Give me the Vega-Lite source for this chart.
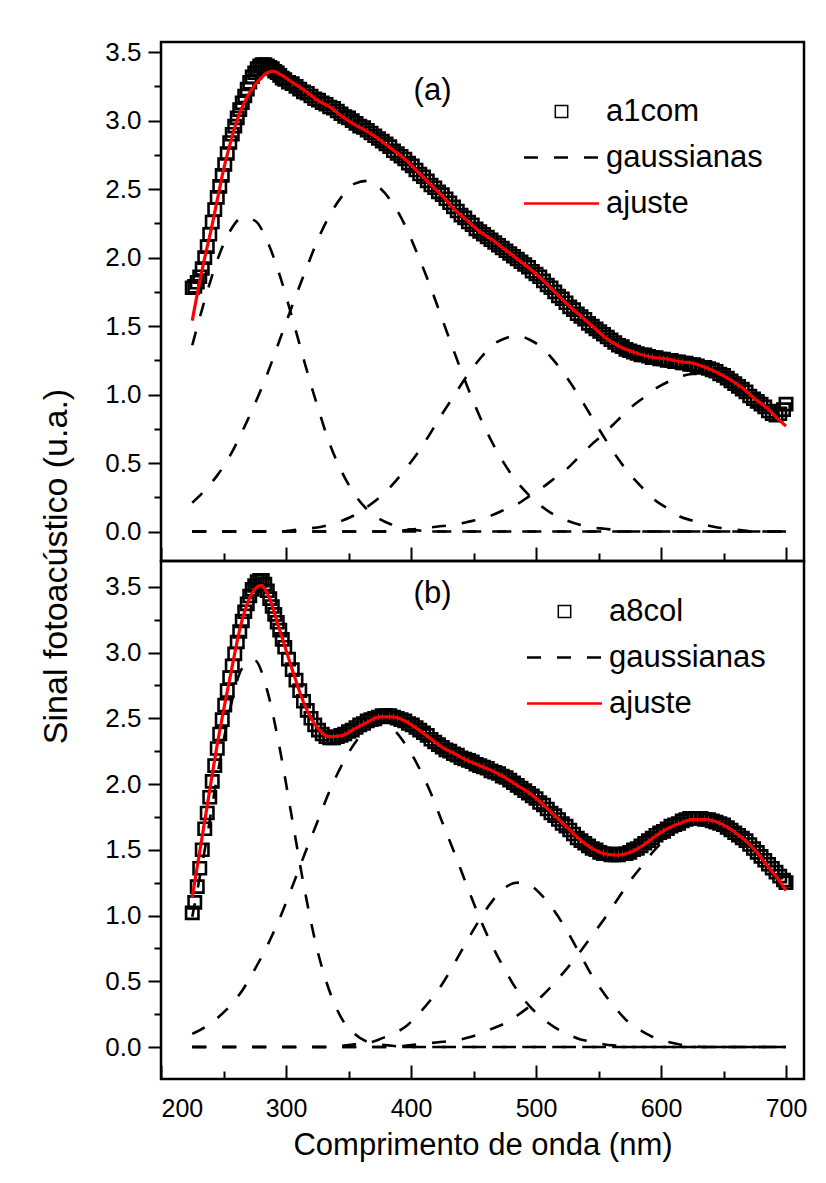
{
"$schema": "https://vega.github.io/schema/vega-lite/v6.json",
"background": "white",
"padding": {"left": 37, "top": 37, "right": 0, "bottom": 5},
"bounds": "flush",
"spacing": 0,
"config": {
  "view": {"stroke": "black", "strokeWidth": 2.5},
  "font": "Liberation Sans",
  "axis": {"grid": false, "domain": false, "tickColor": "black", "tickWidth": 2, "labelColor": "black", "labelFont": "Liberation Sans", "titleFont": "Liberation Sans", "titleFontWeight": "normal", "titleColor": "black"},
  "legend": {"labelFont": "Liberation Sans", "labelColor": "black", "labelFontSize": 31, "labelLimit": 400, "symbolSize": 400, "symbolStrokeWidth": 2.5, "symbolFillColor": "transparent", "labelOffset": 29, "rowPadding": 14, "title": null}
},
"resolve": {"scale": {"color": "independent", "shape": "independent", "strokeDash": "independent"}},
"datasets": {
"d1": [
{"w":225,"v":1.78},{"w":227,"v":1.79},{"w":229,"v":1.82},{"w":231,"v":1.86},{"w":233,"v":1.92},{"w":235,"v":2.00},{"w":237,"v":2.08},{"w":239,"v":2.17},{"w":241,"v":2.26},{"w":243,"v":2.35},{"w":245,"v":2.44},{"w":247,"v":2.52},{"w":249,"v":2.60},{"w":251,"v":2.68},{"w":253,"v":2.76},{"w":255,"v":2.84},{"w":257,"v":2.90},{"w":259,"v":2.96},{"w":261,"v":3.02},{"w":263,"v":3.08},{"w":265,"v":3.13},{"w":267,"v":3.18},{"w":269,"v":3.23},{"w":271,"v":3.28},{"w":273,"v":3.32},{"w":275,"v":3.35},{"w":277,"v":3.38},{"w":279,"v":3.40},{"w":281,"v":3.41},{"w":283,"v":3.41},{"w":285,"v":3.40},{"w":287,"v":3.39},{"w":289,"v":3.38},{"w":291,"v":3.36},{"w":293,"v":3.35},{"w":295,"v":3.33},{"w":297,"v":3.31},{"w":299,"v":3.30},
{"w":302,"v":3.28},{"w":305,"v":3.27},{"w":308,"v":3.25},{"w":311,"v":3.23},{"w":314,"v":3.21},{"w":317,"v":3.20},{"w":320,"v":3.18},{"w":323,"v":3.16},{"w":326,"v":3.15},{"w":329,"v":3.13},{"w":332,"v":3.12},{"w":335,"v":3.10},{"w":338,"v":3.09},{"w":341,"v":3.07},{"w":344,"v":3.05},{"w":347,"v":3.03},{"w":350,"v":3.02},{"w":353,"v":3.00},{"w":356,"v":2.98},{"w":359,"v":2.96},{"w":362,"v":2.95},{"w":365,"v":2.93},{"w":368,"v":2.91},{"w":371,"v":2.89},{"w":374,"v":2.87},{"w":377,"v":2.85},{"w":380,"v":2.83},{"w":383,"v":2.81},{"w":386,"v":2.78},{"w":389,"v":2.76},{"w":392,"v":2.74},{"w":395,"v":2.72},{"w":398,"v":2.69},{"w":401,"v":2.67},{"w":404,"v":2.64},{"w":407,"v":2.61},{"w":410,"v":2.59},{"w":413,"v":2.56},{"w":416,"v":2.53},{"w":419,"v":2.51},{"w":422,"v":2.48},{"w":425,"v":2.46},{"w":428,"v":2.43},{"w":431,"v":2.40},{"w":434,"v":2.37},{"w":437,"v":2.34},{"w":440,"v":2.31},{"w":443,"v":2.29},{"w":446,"v":2.26},{"w":449,"v":2.24},{"w":452,"v":2.21},{"w":455,"v":2.19},{"w":458,"v":2.17},{"w":461,"v":2.15},{"w":464,"v":2.13},{"w":467,"v":2.11},{"w":470,"v":2.09},{"w":473,"v":2.07},{"w":476,"v":2.05},{"w":479,"v":2.03},{"w":482,"v":2.01},{"w":485,"v":1.99},{"w":488,"v":1.97},{"w":491,"v":1.95},{"w":494,"v":1.93},{"w":497,"v":1.90},{"w":500,"v":1.88},{"w":503,"v":1.86},{"w":506,"v":1.83},{"w":509,"v":1.80},{"w":512,"v":1.78},{"w":515,"v":1.75},{"w":518,"v":1.72},{"w":521,"v":1.70},{"w":524,"v":1.67},{"w":527,"v":1.64},{"w":530,"v":1.62},{"w":533,"v":1.59},{"w":536,"v":1.57},{"w":539,"v":1.55},{"w":542,"v":1.52},{"w":545,"v":1.50},{"w":548,"v":1.48},{"w":551,"v":1.46},{"w":554,"v":1.44},{"w":557,"v":1.42},{"w":560,"v":1.40},{"w":563,"v":1.38},{"w":566,"v":1.36},{"w":569,"v":1.35},{"w":572,"v":1.33},{"w":575,"v":1.32},{"w":578,"v":1.31},{"w":581,"v":1.30},{"w":584,"v":1.29},{"w":587,"v":1.29},{"w":590,"v":1.28},{"w":593,"v":1.27},{"w":596,"v":1.27},{"w":599,"v":1.26},{"w":602,"v":1.26},{"w":605,"v":1.25},{"w":608,"v":1.25},{"w":611,"v":1.24},{"w":614,"v":1.24},{"w":617,"v":1.23},{"w":620,"v":1.23},{"w":623,"v":1.22},{"w":626,"v":1.22},{"w":629,"v":1.21},{"w":632,"v":1.20},{"w":635,"v":1.20},{"w":638,"v":1.19},{"w":641,"v":1.18},{"w":644,"v":1.17},{"w":647,"v":1.15},{"w":650,"v":1.14},{"w":653,"v":1.12},{"w":656,"v":1.10},{"w":659,"v":1.08},{"w":662,"v":1.06},{"w":665,"v":1.04},{"w":668,"v":1.02},{"w":671,"v":0.99},{"w":674,"v":0.97},{"w":677,"v":0.95},{"w":680,"v":0.93},{"w":683,"v":0.91},{"w":686,"v":0.88},{"w":689,"v":0.86},{"w":692,"v":0.85},{"w":695,"v":0.86},{"w":698,"v":0.89},{"w":700,"v":0.93}
],
"f1": [
{"w":225,"v":1.54},{"w":230,"v":1.78},{"w":235,"v":2.0},{"w":240,"v":2.2},{"w":245,"v":2.42},{"w":250,"v":2.64},{"w":255,"v":2.82},{"w":260,"v":2.98},{"w":265,"v":3.1},{"w":270,"v":3.19},{"w":275,"v":3.26},{"w":280,"v":3.31},{"w":285,"v":3.35},{"w":290,"v":3.36},{"w":295,"v":3.34},{"w":305,"v":3.28},{"w":315,"v":3.22},{"w":325,"v":3.15},{"w":335,"v":3.1},{"w":345,"v":3.03},{"w":355,"v":2.97},{"w":365,"v":2.92},{"w":375,"v":2.86},{"w":385,"v":2.79},{"w":395,"v":2.72},{"w":405,"v":2.63},{"w":415,"v":2.54},{"w":425,"v":2.45},{"w":435,"v":2.35},{"w":445,"v":2.27},{"w":455,"v":2.19},{"w":465,"v":2.13},{"w":475,"v":2.06},{"w":485,"v":1.99},{"w":495,"v":1.92},{"w":505,"v":1.84},{"w":515,"v":1.75},{"w":525,"v":1.66},{"w":535,"v":1.58},{"w":545,"v":1.50},{"w":555,"v":1.42},{"w":565,"v":1.36},{"w":575,"v":1.32},{"w":585,"v":1.29},{"w":595,"v":1.27},{"w":605,"v":1.26},{"w":615,"v":1.24},{"w":625,"v":1.23},{"w":635,"v":1.20},{"w":645,"v":1.16},{"w":655,"v":1.11},{"w":665,"v":1.05},{"w":675,"v":0.97},{"w":685,"v":0.90},{"w":695,"v":0.81},{"w":700,"v":0.77}
],
"g1": [
{"g":0,"w":225,"v":0},{"g":0,"w":700,"v":0},
{"g":1,"w":225,"v":1.36},{"g":1,"w":235,"v":1.69},{"g":1,"w":245,"v":1.98},{"g":1,"w":255,"v":2.19},{"g":1,"w":265,"v":2.29},{"g":1,"w":275,"v":2.27},{"g":1,"w":285,"v":2.12},{"g":1,"w":295,"v":1.87},{"g":1,"w":305,"v":1.56},{"g":1,"w":315,"v":1.23},{"g":1,"w":325,"v":0.92},{"g":1,"w":335,"v":0.64},{"g":1,"w":345,"v":0.43},{"g":1,"w":355,"v":0.27},{"g":1,"w":365,"v":0.16},{"g":1,"w":375,"v":0.09},{"g":1,"w":385,"v":0.05},{"g":1,"w":395,"v":0.02},{"g":1,"w":405,"v":0.01},{"g":1,"w":415,"v":0},{"g":1,"w":700,"v":0},
{"g":2,"w":225,"v":0.21},{"g":2,"w":235,"v":0.30},{"g":2,"w":245,"v":0.41},{"g":2,"w":255,"v":0.55},{"g":2,"w":265,"v":0.73},{"g":2,"w":275,"v":0.93},{"g":2,"w":285,"v":1.15},{"g":2,"w":295,"v":1.40},{"g":2,"w":305,"v":1.65},{"g":2,"w":315,"v":1.89},{"g":2,"w":325,"v":2.12},{"g":2,"w":335,"v":2.31},{"g":2,"w":345,"v":2.45},{"g":2,"w":355,"v":2.54},{"g":2,"w":365,"v":2.56},{"g":2,"w":375,"v":2.51},{"g":2,"w":385,"v":2.40},{"g":2,"w":395,"v":2.24},{"g":2,"w":405,"v":2.03},{"g":2,"w":415,"v":1.80},{"g":2,"w":425,"v":1.55},{"g":2,"w":435,"v":1.30},{"g":2,"w":445,"v":1.06},{"g":2,"w":455,"v":0.84},{"g":2,"w":465,"v":0.65},{"g":2,"w":475,"v":0.49},{"g":2,"w":485,"v":0.36},{"g":2,"w":495,"v":0.26},{"g":2,"w":505,"v":0.18},{"g":2,"w":515,"v":0.12},{"g":2,"w":525,"v":0.08},{"g":2,"w":535,"v":0.05},{"g":2,"w":545,"v":0.03},{"g":2,"w":555,"v":0.02},{"g":2,"w":565,"v":0.01},{"g":2,"w":575,"v":0},{"g":2,"w":700,"v":0},
{"g":3,"w":225,"v":0},{"g":3,"w":295,"v":0},{"g":3,"w":305,"v":0.01},{"g":3,"w":315,"v":0.02},{"g":3,"w":325,"v":0.03},{"g":3,"w":335,"v":0.05},{"g":3,"w":345,"v":0.08},{"g":3,"w":355,"v":0.12},{"g":3,"w":365,"v":0.18},{"g":3,"w":375,"v":0.25},{"g":3,"w":385,"v":0.34},{"g":3,"w":395,"v":0.45},{"g":3,"w":405,"v":0.57},{"g":3,"w":415,"v":0.71},{"g":3,"w":425,"v":0.86},{"g":3,"w":435,"v":1.00},{"g":3,"w":445,"v":1.14},{"g":3,"w":455,"v":1.26},{"g":3,"w":465,"v":1.36},{"g":3,"w":475,"v":1.41},{"g":3,"w":485,"v":1.43},{"g":3,"w":495,"v":1.40},{"g":3,"w":505,"v":1.34},{"g":3,"w":515,"v":1.24},{"g":3,"w":525,"v":1.12},{"g":3,"w":535,"v":0.98},{"g":3,"w":545,"v":0.83},{"g":3,"w":555,"v":0.68},{"g":3,"w":565,"v":0.54},{"g":3,"w":575,"v":0.42},{"g":3,"w":585,"v":0.32},{"g":3,"w":595,"v":0.23},{"g":3,"w":605,"v":0.17},{"g":3,"w":615,"v":0.11},{"g":3,"w":625,"v":0.08},{"g":3,"w":635,"v":0.05},{"g":3,"w":645,"v":0.03},{"g":3,"w":655,"v":0.02},{"g":3,"w":665,"v":0.01},{"g":3,"w":675,"v":0},{"g":3,"w":700,"v":0},
{"g":4,"w":225,"v":0},{"g":4,"w":385,"v":0},{"g":4,"w":395,"v":0.01},{"g":4,"w":405,"v":0.02},{"g":4,"w":415,"v":0.03},{"g":4,"w":425,"v":0.04},{"g":4,"w":435,"v":0.05},{"g":4,"w":445,"v":0.07},{"g":4,"w":455,"v":0.09},{"g":4,"w":465,"v":0.12},{"g":4,"w":475,"v":0.16},{"g":4,"w":485,"v":0.20},{"g":4,"w":495,"v":0.26},{"g":4,"w":505,"v":0.32},{"g":4,"w":515,"v":0.39},{"g":4,"w":525,"v":0.46},{"g":4,"w":535,"v":0.55},{"g":4,"w":545,"v":0.64},{"g":4,"w":555,"v":0.72},{"g":4,"w":565,"v":0.81},{"g":4,"w":575,"v":0.90},{"g":4,"w":585,"v":0.97},{"g":4,"w":595,"v":1.04},{"g":4,"w":605,"v":1.09},{"g":4,"w":615,"v":1.13},{"g":4,"w":625,"v":1.15},{"g":4,"w":635,"v":1.15},{"g":4,"w":645,"v":1.13},{"g":4,"w":655,"v":1.09},{"g":4,"w":665,"v":1.04},{"g":4,"w":675,"v":0.97},{"g":4,"w":685,"v":0.90},{"g":4,"w":695,"v":0.81},{"g":4,"w":700,"v":0.77}
],
"d2": [
{"w":225,"v":1.02},{"w":227,"v":1.10},{"w":229,"v":1.22},{"w":231,"v":1.36},{"w":233,"v":1.50},{"w":235,"v":1.66},{"w":237,"v":1.78},{"w":239,"v":1.90},{"w":241,"v":2.02},{"w":243,"v":2.14},{"w":245,"v":2.27},{"w":247,"v":2.38},{"w":249,"v":2.49},{"w":251,"v":2.60},{"w":253,"v":2.71},{"w":255,"v":2.81},{"w":257,"v":2.90},{"w":259,"v":2.99},{"w":261,"v":3.08},{"w":263,"v":3.16},{"w":265,"v":3.24},{"w":267,"v":3.31},{"w":269,"v":3.37},{"w":271,"v":3.43},{"w":273,"v":3.48},{"w":275,"v":3.51},{"w":277,"v":3.54},{"w":279,"v":3.55},{"w":281,"v":3.55},{"w":283,"v":3.52},{"w":285,"v":3.47},{"w":287,"v":3.41},{"w":289,"v":3.35},{"w":291,"v":3.29},{"w":293,"v":3.23},{"w":295,"v":3.17},{"w":297,"v":3.10},{"w":299,"v":3.04},
{"w":302,"v":2.95},{"w":305,"v":2.87},{"w":308,"v":2.79},{"w":311,"v":2.71},{"w":314,"v":2.63},{"w":317,"v":2.56},{"w":320,"v":2.50},{"w":323,"v":2.45},{"w":326,"v":2.41},{"w":329,"v":2.38},{"w":332,"v":2.36},{"w":335,"v":2.35},{"w":338,"v":2.35},{"w":341,"v":2.36},{"w":344,"v":2.37},{"w":347,"v":2.38},{"w":350,"v":2.40},{"w":353,"v":2.41},{"w":356,"v":2.43},{"w":359,"v":2.45},{"w":362,"v":2.46},{"w":365,"v":2.48},{"w":368,"v":2.49},{"w":371,"v":2.50},{"w":374,"v":2.51},{"w":377,"v":2.52},{"w":380,"v":2.52},{"w":383,"v":2.52},{"w":386,"v":2.51},{"w":389,"v":2.50},{"w":392,"v":2.49},{"w":395,"v":2.48},{"w":398,"v":2.46},{"w":401,"v":2.45},{"w":404,"v":2.43},{"w":407,"v":2.41},{"w":410,"v":2.39},{"w":413,"v":2.37},{"w":416,"v":2.34},{"w":419,"v":2.32},{"w":422,"v":2.30},{"w":425,"v":2.28},{"w":428,"v":2.26},{"w":431,"v":2.25},{"w":434,"v":2.23},{"w":437,"v":2.22},{"w":440,"v":2.20},{"w":443,"v":2.19},{"w":446,"v":2.18},{"w":449,"v":2.17},{"w":452,"v":2.15},{"w":455,"v":2.14},{"w":458,"v":2.13},{"w":461,"v":2.12},{"w":464,"v":2.10},{"w":467,"v":2.09},{"w":470,"v":2.08},{"w":473,"v":2.06},{"w":476,"v":2.05},{"w":479,"v":2.03},{"w":482,"v":2.01},{"w":485,"v":1.99},{"w":488,"v":1.97},{"w":491,"v":1.95},{"w":494,"v":1.93},{"w":497,"v":1.91},{"w":500,"v":1.89},{"w":503,"v":1.86},{"w":506,"v":1.84},{"w":509,"v":1.81},{"w":512,"v":1.78},{"w":515,"v":1.76},{"w":518,"v":1.73},{"w":521,"v":1.70},{"w":524,"v":1.68},{"w":527,"v":1.65},{"w":530,"v":1.62},{"w":533,"v":1.59},{"w":536,"v":1.57},{"w":539,"v":1.55},{"w":542,"v":1.53},{"w":545,"v":1.51},{"w":548,"v":1.50},{"w":551,"v":1.48},{"w":554,"v":1.47},{"w":557,"v":1.47},{"w":560,"v":1.46},{"w":563,"v":1.46},{"w":566,"v":1.46},{"w":569,"v":1.47},{"w":572,"v":1.47},{"w":575,"v":1.48},{"w":578,"v":1.50},{"w":581,"v":1.51},{"w":584,"v":1.53},{"w":587,"v":1.55},{"w":590,"v":1.57},{"w":593,"v":1.59},{"w":596,"v":1.61},{"w":599,"v":1.63},{"w":602,"v":1.64},{"w":605,"v":1.66},{"w":608,"v":1.68},{"w":611,"v":1.69},{"w":614,"v":1.70},{"w":617,"v":1.72},{"w":620,"v":1.73},{"w":623,"v":1.74},{"w":626,"v":1.74},{"w":629,"v":1.74},{"w":632,"v":1.74},{"w":635,"v":1.73},{"w":638,"v":1.73},{"w":641,"v":1.72},{"w":644,"v":1.71},{"w":647,"v":1.70},{"w":650,"v":1.69},{"w":653,"v":1.67},{"w":656,"v":1.65},{"w":659,"v":1.63},{"w":662,"v":1.61},{"w":665,"v":1.59},{"w":668,"v":1.57},{"w":671,"v":1.54},{"w":674,"v":1.51},{"w":677,"v":1.48},{"w":680,"v":1.45},{"w":683,"v":1.42},{"w":686,"v":1.39},{"w":689,"v":1.36},{"w":692,"v":1.33},{"w":695,"v":1.30},{"w":698,"v":1.27},{"w":700,"v":1.25}
],
"f2": [
{"w":225,"v":1.14},{"w":235,"v":1.72},{"w":245,"v":2.30},{"w":255,"v":2.80},{"w":265,"v":3.25},{"w":275,"v":3.48},{"w":280,"v":3.51},{"w":285,"v":3.45},{"w":295,"v":3.17},{"w":305,"v":2.87},{"w":315,"v":2.60},{"w":325,"v":2.43},{"w":335,"v":2.36},{"w":345,"v":2.37},{"w":355,"v":2.42},{"w":365,"v":2.47},{"w":375,"v":2.51},{"w":385,"v":2.51},{"w":395,"v":2.48},{"w":405,"v":2.42},{"w":415,"v":2.35},{"w":425,"v":2.28},{"w":435,"v":2.23},{"w":445,"v":2.18},{"w":455,"v":2.14},{"w":465,"v":2.10},{"w":475,"v":2.05},{"w":485,"v":1.99},{"w":495,"v":1.93},{"w":505,"v":1.85},{"w":515,"v":1.76},{"w":525,"v":1.67},{"w":535,"v":1.58},{"w":545,"v":1.51},{"w":555,"v":1.47},{"w":565,"v":1.46},{"w":575,"v":1.48},{"w":585,"v":1.53},{"w":595,"v":1.60},{"w":605,"v":1.66},{"w":615,"v":1.70},{"w":625,"v":1.73},{"w":635,"v":1.73},{"w":645,"v":1.71},{"w":655,"v":1.66},{"w":665,"v":1.59},{"w":675,"v":1.50},{"w":685,"v":1.38},{"w":695,"v":1.26},{"w":700,"v":1.19}
],
"g2": [
{"g":0,"w":225,"v":0},{"g":0,"w":700,"v":0},
{"g":1,"w":225,"v":0.99},{"g":1,"w":235,"v":1.50},{"g":1,"w":245,"v":2.06},{"g":1,"w":255,"v":2.56},{"g":1,"w":265,"v":2.88},{"g":1,"w":275,"v":2.94},{"g":1,"w":285,"v":2.71},{"g":1,"w":295,"v":2.27},{"g":1,"w":305,"v":1.73},{"g":1,"w":315,"v":1.19},{"g":1,"w":325,"v":0.74},{"g":1,"w":335,"v":0.42},{"g":1,"w":345,"v":0.21},{"g":1,"w":355,"v":0.10},{"g":1,"w":365,"v":0.04},{"g":1,"w":375,"v":0.02},{"g":1,"w":385,"v":0.01},{"g":1,"w":395,"v":0},{"g":1,"w":700,"v":0},
{"g":2,"w":225,"v":0.10},{"g":2,"w":235,"v":0.15},{"g":2,"w":245,"v":0.22},{"g":2,"w":255,"v":0.31},{"g":2,"w":265,"v":0.43},{"g":2,"w":275,"v":0.59},{"g":2,"w":285,"v":0.77},{"g":2,"w":295,"v":0.98},{"g":2,"w":305,"v":1.22},{"g":2,"w":315,"v":1.47},{"g":2,"w":325,"v":1.71},{"g":2,"w":335,"v":1.95},{"g":2,"w":345,"v":2.15},{"g":2,"w":355,"v":2.31},{"g":2,"w":365,"v":2.42},{"g":2,"w":375,"v":2.45},{"g":2,"w":385,"v":2.42},{"g":2,"w":395,"v":2.31},{"g":2,"w":405,"v":2.15},{"g":2,"w":415,"v":1.95},{"g":2,"w":425,"v":1.71},{"g":2,"w":435,"v":1.47},{"g":2,"w":445,"v":1.22},{"g":2,"w":455,"v":0.98},{"g":2,"w":465,"v":0.77},{"g":2,"w":475,"v":0.59},{"g":2,"w":485,"v":0.43},{"g":2,"w":495,"v":0.31},{"g":2,"w":505,"v":0.22},{"g":2,"w":515,"v":0.15},{"g":2,"w":525,"v":0.10},{"g":2,"w":535,"v":0.06},{"g":2,"w":545,"v":0.04},{"g":2,"w":555,"v":0.02},{"g":2,"w":565,"v":0.01},{"g":2,"w":575,"v":0},{"g":2,"w":700,"v":0},
{"g":3,"w":225,"v":0},{"g":3,"w":335,"v":0},{"g":3,"w":345,"v":0.01},{"g":3,"w":355,"v":0.02},{"g":3,"w":365,"v":0.03},{"g":3,"w":375,"v":0.06},{"g":3,"w":385,"v":0.10},{"g":3,"w":395,"v":0.15},{"g":3,"w":405,"v":0.24},{"g":3,"w":415,"v":0.35},{"g":3,"w":425,"v":0.48},{"g":3,"w":435,"v":0.64},{"g":3,"w":445,"v":0.81},{"g":3,"w":455,"v":0.97},{"g":3,"w":465,"v":1.11},{"g":3,"w":475,"v":1.21},{"g":3,"w":485,"v":1.25},{"g":3,"w":495,"v":1.23},{"g":3,"w":505,"v":1.15},{"g":3,"w":515,"v":1.03},{"g":3,"w":525,"v":0.88},{"g":3,"w":535,"v":0.71},{"g":3,"w":545,"v":0.54},{"g":3,"w":555,"v":0.40},{"g":3,"w":565,"v":0.28},{"g":3,"w":575,"v":0.18},{"g":3,"w":585,"v":0.12},{"g":3,"w":595,"v":0.07},{"g":3,"w":605,"v":0.04},{"g":3,"w":615,"v":0.02},{"g":3,"w":625,"v":0.01},{"g":3,"w":635,"v":0},{"g":3,"w":700,"v":0},
{"g":4,"w":225,"v":0},{"g":4,"w":385,"v":0},{"g":4,"w":395,"v":0.01},{"g":4,"w":405,"v":0.02},{"g":4,"w":415,"v":0.03},{"g":4,"w":425,"v":0.04},{"g":4,"w":435,"v":0.05},{"g":4,"w":445,"v":0.07},{"g":4,"w":455,"v":0.10},{"g":4,"w":465,"v":0.14},{"g":4,"w":475,"v":0.18},{"g":4,"w":485,"v":0.24},{"g":4,"w":495,"v":0.31},{"g":4,"w":505,"v":0.39},{"g":4,"w":515,"v":0.49},{"g":4,"w":525,"v":0.60},{"g":4,"w":535,"v":0.72},{"g":4,"w":545,"v":0.85},{"g":4,"w":555,"v":0.98},{"g":4,"w":565,"v":1.12},{"g":4,"w":575,"v":1.26},{"g":4,"w":585,"v":1.38},{"g":4,"w":595,"v":1.50},{"g":4,"w":605,"v":1.59},{"g":4,"w":615,"v":1.66},{"g":4,"w":625,"v":1.71},{"g":4,"w":635,"v":1.72},{"g":4,"w":645,"v":1.71},{"g":4,"w":655,"v":1.66},{"g":4,"w":665,"v":1.59},{"g":4,"w":675,"v":1.50},{"g":4,"w":685,"v":1.38},{"g":4,"w":695,"v":1.26},{"g":4,"w":700,"v":1.19}
]
},
"vconcat": [
{
  "width": 643, "height": 519,
  "title": {"text": "(a)", "fontSize": 31, "fontWeight": "normal", "font": "Liberation Sans", "color": "black", "anchor": "middle", "frame": "group", "dx": -50, "offset": -92, "baseline": "alphabetic"},
  "encoding": {
    "x": {"field": "w", "type": "quantitative", "scale": {"domain": [200, 714.4], "nice": false, "zero": false},
          "axis": {"orient": "bottom", "values": [200,250,300,350,400,450,500,550,600,650,700], "labels": false, "title": null,
                   "tickSize": {"condition": {"test": "datum.value % 100 == 0", "value": -14}, "value": -8}}},
    "y": {"field": "v", "type": "quantitative", "scale": {"domain": [-0.215, 3.574], "nice": false, "zero": false},
          "axis": {"values": [0,0.25,0.5,0.75,1,1.25,1.5,1.75,2,2.25,2.5,2.75,3,3.25,3.5],
                   "labelExpr": "datum.value % 0.5 == 0 ? format(datum.value, '.1f') : ''",
                   "labelFontSize": 26, "labelPadding": 7,
                   "tickSize": {"condition": {"test": "datum.value % 0.5 == 0", "value": 13}, "value": 7},
                   "title": "Sinal fotoacústico (u.a.)", "titleFontSize": 34, "titleX": -95, "titleY": 524, "titleAlign": "center", "titleBaseline": "alphabetic", "titleAngle": -90}}
  },
  "layer": [
    {"data": {"name": "g1"}, "mark": {"type": "line", "interpolate": "monotone", "strokeWidth": 2.6},
     "encoding": {"detail": {"field": "g"},
       "color": {"datum": "gaussianas", "scale": {"domain": ["a1com","gaussianas","ajuste"], "range": ["black","black","#ff0000"]},
                 "legend": {"orient": "none", "legendX": 385, "legendY": 54,
                            "encode": {"symbols": {"update": {"strokeWidth": {"signal": "datum.value == 'a1com' ? 1.5 : 2.5"}, "fill": {"value": "transparent"}}}}}},
       "strokeDash": {"datum": "gaussianas", "scale": {"domain": ["a1com","gaussianas","ajuste"], "range": [[1,0],[14,16],[1,0]]}}}},
    {"data": {"name": "d1"}, "mark": {"type": "point", "filled": false, "size": 400, "strokeWidth": 2.6, "opacity": 1},
     "encoding": {"color": {"datum": "a1com"},
       "shape": {"datum": "a1com", "scale": {"domain": ["a1com","gaussianas","ajuste"], "range": ["M-0.62,-0.6H0.62V0.6H-0.62Z","M-3.75,0H3.75","M-3.75,0H3.75"]}}}},
    {"data": {"name": "f1"}, "mark": {"type": "line", "interpolate": "monotone", "strokeWidth": 3.2},
     "encoding": {"color": {"datum": "ajuste"}, "strokeDash": {"datum": "ajuste"}}}
  ]
},
{
  "width": 643, "height": 518,
  "title": {"text": "(b)", "fontSize": 31, "fontWeight": "normal", "font": "Liberation Sans", "color": "black", "anchor": "middle", "frame": "group", "dx": -50, "offset": -73, "baseline": "alphabetic"},
  "encoding": {
    "x": {"field": "w", "type": "quantitative", "scale": {"domain": [200, 714.4], "nice": false, "zero": false},
          "axis": {"orient": "bottom", "values": [200,250,300,350,400,450,500,550,600,650,700],
                   "labelExpr": "datum.value % 100 == 0 ? datum.label : ''", "labelFontSize": 25, "labelPadding": 31,
                   "tickSize": {"condition": {"test": "datum.value % 100 == 0", "value": -14}, "value": -8},
                   "title": "Comprimento de onda (nm)", "titleFontSize": 31, "titleY": 75, "titleBaseline": "alphabetic"}},
    "y": {"field": "v", "type": "quantitative", "scale": {"domain": [-0.243, 3.696], "nice": false, "zero": false},
          "axis": {"values": [0,0.25,0.5,0.75,1,1.25,1.5,1.75,2,2.25,2.5,2.75,3,3.25,3.5], "title": null,
                   "labelExpr": "datum.value % 0.5 == 0 ? format(datum.value, '.1f') : ''",
                   "labelFontSize": 26, "labelPadding": 7,
                   "tickSize": {"condition": {"test": "datum.value % 0.5 == 0", "value": 13}, "value": 7}}}
  },
  "layer": [
    {"data": {"name": "g2"}, "mark": {"type": "line", "interpolate": "monotone", "strokeWidth": 2.6},
     "encoding": {"detail": {"field": "g"},
       "color": {"datum": "gaussianas", "scale": {"domain": ["a8col","gaussianas","ajuste"], "range": ["black","black","#ff0000"]},
                 "legend": {"orient": "none", "legendX": 388, "legendY": 35,
                            "encode": {"symbols": {"update": {"strokeWidth": {"signal": "datum.value == 'a8col' ? 1.5 : 2.5"}, "fill": {"value": "transparent"}}}}}},
       "strokeDash": {"datum": "gaussianas", "scale": {"domain": ["a8col","gaussianas","ajuste"], "range": [[1,0],[14,16],[1,0]]}}}},
    {"data": {"name": "d2"}, "mark": {"type": "point", "filled": false, "size": 400, "strokeWidth": 2.6, "opacity": 1},
     "encoding": {"color": {"datum": "a8col"},
       "shape": {"datum": "a8col", "scale": {"domain": ["a8col","gaussianas","ajuste"], "range": ["M-0.62,-0.6H0.62V0.6H-0.62Z","M-3.75,0H3.75","M-3.75,0H3.75"]}}}},
    {"data": {"name": "f2"}, "mark": {"type": "line", "interpolate": "monotone", "strokeWidth": 3.2},
     "encoding": {"color": {"datum": "ajuste"}, "strokeDash": {"datum": "ajuste"}}}
  ]
}
]
}
